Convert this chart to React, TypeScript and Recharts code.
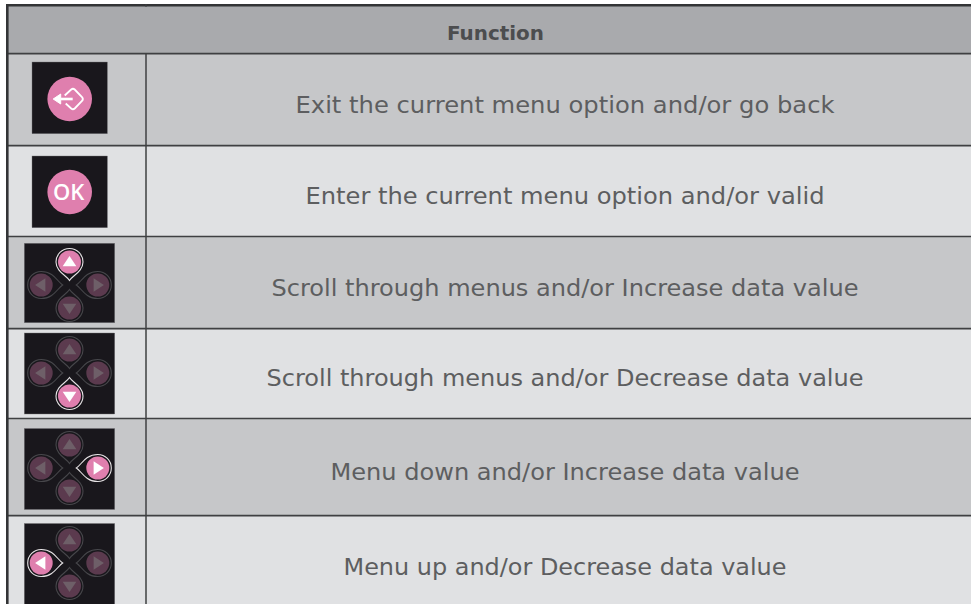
import React from "react";
import { ComposedChart, XAxis, YAxis, Scatter, ReferenceArea, ReferenceLine } from "recharts";

const W = 971;
const H = 604;
const FONT = "'DejaVu Sans', sans-serif";

const headerLabel = "Function";
const rowLabels = [
  "Exit the current menu option and/or go back",
  "Enter the current menu option and/or valid",
  "Scroll through menus and/or Increase data value",
  "Scroll through menus and/or Decrease data value",
  "Menu down and/or Increase data value",
  "Menu up and/or Decrease data value",
];
const rowIcons = ["back", "ok", "up", "down", "right", "left"];
const rowEdges = [5.3, 53.7, 145.7, 236.5, 328.7, 418.5, 515.6, 604];
const rowFills = ["#a9aaad", "#c6c7c9", "#e0e1e3", "#c6c7c9", "#e0e1e3", "#c6c7c9", "#e0e1e3"];
const labelCenters = [565, 565, 565, 565, 565, 565];
const labelRowY = [104, 195, 287, 377, 471, 566];
const labelWidths = [539, 519, 587, 597, 469, 443];
const boxCenterX = [69.7, 69.7, 69.5, 69.5, 69.5, 69.5];
const boxCenterY = [98, 192, 283, 373.5, 469, 564];
const padCenterY = [99, 192, 285, 373, 468, 563];

const iconData = rowIcons.map((kind, i) => ({ x: boxCenterX[i], y: boxCenterY[i], py: padCenterY[i] - boxCenterY[i], kind }));
const textData = rowLabels.map((label, i) => ({ x: labelCenters[i], y: labelRowY[i], label, w: labelWidths[i] }));
const headerData = [{ x: 495.5, y: 33, label: headerLabel, w: 97 }];

const PINK = "#df7fae";
const DIM = "#5b3a4e";

function tear(dir: string, active: boolean) {
  const vertical = dir === "up" || dir === "down";
  const off = vertical ? 23 : 28.3;
  const d = vertical ? 18.5 : 21.5;
  const r = 13.5;
  const angle = { up: -90, down: 90, left: 180, right: 0 }[dir] as number;
  const path = `M ${d} 0 C ${d - 5} -3 ${d - 9} -${r} 0 -${r} A ${r} ${r} 0 1 0 0 ${r} C ${d - 9} ${r} ${d - 5} 3 ${d} 0 Z`;
  const tri = 7.6;
  return (
    <g key={dir}>
      <g transform={`translate(${dir === "left" ? -off : dir === "right" ? off : 0} ${dir === "up" ? -off : dir === "down" ? off : 0})`}>
        <g transform={`rotate(${{ up: 90, down: -90, left: 0, right: 180 }[dir]})`}>
          <path d={path} fill="none" stroke={active ? "#e6e3e5" : "#47474b"} strokeWidth={1.1} />
        </g>
        <circle r={11.5} fill={active ? PINK : DIM} />
        <g transform={`rotate(${angle})`}>
          <path
            d={`M ${tri * 0.8} 0 L ${-tri * 0.55} ${-tri * 0.9} L ${-tri * 0.55} ${tri * 0.9} Z`}
            fill={active ? "#ffffff" : "#6e5f68"}
          />
        </g>
      </g>
    </g>
  );
}

const IconShape = (props: any) => {
  const { cx, cy, payload } = props;
  const kind = payload.kind;
  if (kind === "back" || kind === "ok") {
    return (
      <g transform={`translate(${cx} ${cy})`}>
        <rect x={-37.7} y={-36} width={75.4} height={71.7} fill="#19171c" stroke="#77777a" strokeWidth={0.4} />
        <circle cx={0} cy={payload.py} r={22.3} fill={PINK} />
        {kind === "ok" ? (
          <text x={-1} y={payload.py + 8} textAnchor="middle" fontFamily="'Open Sans', sans-serif" fontWeight={600} fontSize={22} fill="#ffffff">
            OK
          </text>
        ) : (
          <g transform={`translate(0 ${payload.py})`} fill="none" stroke="#ffffff">
            <path d="M -16.5 0 L -9 -5 L -9 5 Z" fill="#ffffff" strokeWidth={1} />
            <path d="M -9 0 L 3 0" strokeWidth={2.6} />
            <path d="M -5 -3.5 L 1.5 -9.5 Q 3.3 -11 5 -9.5 L 12.3 -2 Q 14 0 12.3 2 L 5 9.5 Q 3.3 11 1.5 9.5 L -4 4.5" strokeWidth={1.8} />
          </g>
        )}
      </g>
    );
  }
  const boxH = kind === "up" ? 79.4 : 81;
  return (
    <g transform={`translate(${cx} ${cy})`}>
      <rect x={-45.2} y={-boxH / 2} width={90.4} height={boxH} fill="#19171c" stroke="#77777a" strokeWidth={0.4} />
      <g transform={`translate(0 ${payload.py})`}>
        {["up", "left", "right", "down"].map((d) => tear(d, d === kind))}
      </g>
    </g>
  );
};

const LabelShape = (props: any) => (
  <text
    x={props.cx}
    y={props.cy + 8.5}
    textAnchor="middle"
    fontFamily={FONT}
    fontSize={23}
    fill="#5d5e60"
    textLength={props.payload.w}
    lengthAdjust="spacingAndGlyphs"
  >
    {props.payload.label}
  </text>
);

const HeaderShape = (props: any) => (
  <text
    x={props.cx}
    y={props.cy + 7}
    textAnchor="middle"
    fontFamily={FONT}
    fontWeight={700}
    fontSize={20}
    fill="#4c4d4f"
    textLength={props.payload.w}
    lengthAdjust="spacingAndGlyphs"
  >
    {props.payload.label}
  </text>
);

export default function App() {
  return (
    <div style={{ position: "absolute", left: 0, top: 0, width: W, height: H }}>
      <ComposedChart width={W} height={H} margin={{ top: 0, right: 0, bottom: 0, left: 0 }}>
        <XAxis type="number" dataKey="x" domain={[0, W]} hide />
        <YAxis type="number" dataKey="y" domain={[0, H]} reversed hide />
        {rowFills.map((f, i) => (
          <ReferenceArea key={i} x1={7} x2={W} y1={rowEdges[i]} y2={rowEdges[i + 1]} fill={f} fillOpacity={1} stroke="none" />
        ))}
        {rowEdges.slice(0, -1).map((y, i) => (
          <ReferenceLine key={i} stroke={i === 0 ? "#333436" : "#3f4042"} strokeWidth={i === 0 ? 2.6 : 1.7} segment={[{ x: 6, y }, { x: W, y }]} />
        ))}
        <ReferenceLine stroke="#333436" strokeWidth={2.6} segment={[{ x: 7.3, y: 4 }, { x: 7.3, y: H }]} />
        <ReferenceLine stroke="#3f4042" strokeWidth={1.5} segment={[{ x: 146, y: rowEdges[1] }, { x: 146, y: H }]} />
        <ReferenceLine stroke="#3f4042" strokeWidth={1} segment={[{ x: 146, y: 4 }, { x: 146, y: 7 }]} />
        <Scatter data={iconData} isAnimationActive={false} shape={IconShape} />
        <Scatter data={textData} isAnimationActive={false} shape={LabelShape} />
        <Scatter data={headerData} isAnimationActive={false} shape={HeaderShape} />
      </ComposedChart>
    </div>
  );
}
